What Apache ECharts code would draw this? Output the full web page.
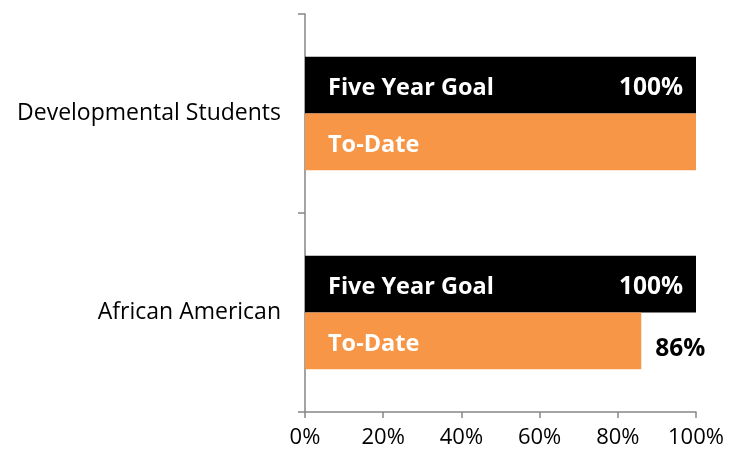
<!DOCTYPE html>
<html>
<head>
<meta charset="utf-8">
<script src="https://cdn.jsdelivr.net/npm/echarts@6/dist/echarts.min.js"></script>
<style>
html,body{margin:0;padding:0;background:#fff;}
#c{width:730px;height:458px;}
</style>
</head>
<body>
<div id="c"></div>
<script>
var categories = ['Developmental Students', 'African American'];
var seriesNames = ['Five Year Goal', 'To-Date'];
var goalValues = [100, 100];
var toDateValues = [100, 86];
var xTicks = [0, 20, 40, 60, 80, 100];

var FONT = 'Open Sans';
var chart = echarts.init(document.getElementById('c'), null, {renderer: 'canvas'});

var baseBar = {
  type: 'bar',
  barGap: '0%',
  barCategoryGap: '43%',
  silent: true
};

function nameSeries(name, values, color) {
  return Object.assign({}, baseBar, {
    name: name,
    yAxisIndex: 0,
    data: values,
    itemStyle: {color: color},
    label: {
      show: true, position: 'insideLeft', distance: 23, offset: [0, 3],
      formatter: '{a}', color: '#ffffff', fontWeight: 'bold',
      fontFamily: FONT, fontSize: 23.5
    }
  });
}

var option = {
  animation: false,
  backgroundColor: '#ffffff',
  grid: {left: 305, right: 34, top: 14, bottom: 46, containLabel: false},
  xAxis: {
    type: 'value', min: xTicks[0], max: xTicks[xTicks.length - 1], interval: 20,
    axisLine: {show: true, lineStyle: {color: '#868686', width: 1.5}},
    axisTick: {show: true, length: 6, lineStyle: {color: '#868686', width: 1.5}},
    splitLine: {show: false},
    axisLabel: {formatter: '{value}%', color: '#000', fontFamily: FONT, fontSize: 22, margin: 15}
  },
  yAxis: [{
    type: 'category', data: categories, inverse: true,
    axisLine: {show: true, lineStyle: {color: '#868686', width: 1.5}},
    axisTick: {show: true, length: 7, lineStyle: {color: '#868686', width: 1.5}},
    axisLabel: {color: '#000', fontFamily: FONT, fontSize: 23, margin: 24}
  }, {
    type: 'category', data: categories, inverse: true, show: false
  }],
  series: [
    nameSeries(seriesNames[0], goalValues, '#000000'),
    nameSeries(seriesNames[1], toDateValues, '#F79646'),
    Object.assign({}, baseBar, {
      name: seriesNames[0] + ' value', yAxisIndex: 1, data: goalValues,
      itemStyle: {color: 'rgba(0,0,0,0)'},
      label: {show: true, position: 'insideRight', distance: 13, offset: [0, 3], formatter: '{c}%',
        color: '#ffffff', fontWeight: 'bold', fontFamily: FONT, fontSize: 24.5}
    }),
    Object.assign({}, baseBar, {
      name: seriesNames[1] + ' value', yAxisIndex: 1,
      data: toDateValues.map(function (v) { return {value: v, label: {show: v < 100}}; }),
      itemStyle: {color: 'rgba(0,0,0,0)'},
      label: {show: true, position: 'right', distance: 14, offset: [0, 8], formatter: '{c}%',
        color: '#000000', fontWeight: 'bold', fontFamily: FONT, fontSize: 24.5}
    })
  ]
};
chart.setOption(option);
</script>
</body>
</html>
